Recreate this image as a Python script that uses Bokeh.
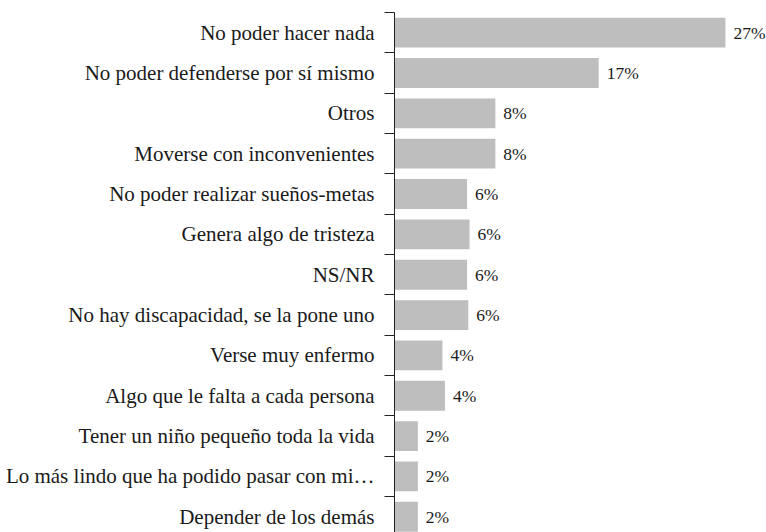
from bokeh.plotting import figure
from bokeh.models import ColumnDataSource, Range1d, FixedTicker
from bokeh.core.properties import value
from bokeh.embed import file_html
from bokeh.resources import INLINE

categories = [
    "No poder hacer nada",
    "No poder defenderse por sí mismo",
    "Otros",
    "Moverse con inconvenientes",
    "No poder realizar sueños-metas",
    "Genera algo de tristeza",
    "NS/NR",
    "No hay discapacidad, se la pone uno",
    "Verse muy enfermo",
    "Algo que le falta a cada persona",
    "Tener un niño pequeño toda la vida",
    "Lo más lindo que ha podido pasar con mi…",
    "Depender de los demás",
]
values = [26.9, 16.6, 8.2, 8.2, 5.9, 6.1, 5.9, 6.0, 3.9, 4.1, 1.9, 1.9, 1.9]

FONT = "Liberation Serif"

n = len(categories)
ypos = [n - 1 - i for i in range(n)]
labels = [f"{v:.0f}%" for v in values]

src = ColumnDataSource(dict(y=ypos, v=values, lab=labels, cat=categories))

p = figure(
    width=766, height=532,
    output_backend="svg", toolbar_location=None,
    x_range=Range1d(0, 30.24), y_range=Range1d(-0.39, n - 0.5),
    x_axis_location=None,
    min_border_left=394, min_border_right=0, min_border_top=12, min_border_bottom=0,
)
p.outline_line_color = None
p.xgrid.visible = False
p.ygrid.visible = False

p.hbar(y="y", right="v", left=0, height=0.74, source=src,
       fill_color="#bebebf", line_color=None)

p.text(x="v", y="y", text="lab", source=src, x_offset=8,
       text_baseline="middle", text_align="left",
       text_font=value(FONT), text_font_size="17.5px",
       text_color="#1a1a1a")

ax = p.yaxis[0]
ax.ticker = FixedTicker(ticks=ypos, minor_ticks=[i - 0.5 for i in range(n + 1)])
ax.major_label_overrides = {y: c for y, c in zip(ypos, categories)}
ax.major_tick_out = 0
ax.major_tick_in = 0
ax.minor_tick_out = 10
ax.minor_tick_in = 0
ax.minor_tick_line_color = "#222222"
ax.axis_line_color = "#222222"
ax.major_label_standoff = 10
ax.major_label_text_font = FONT
ax.major_label_text_font_size = "21px"
ax.major_label_text_color = "#1a1a1a"

open("out.html", "w").write(file_html(p, INLINE))
